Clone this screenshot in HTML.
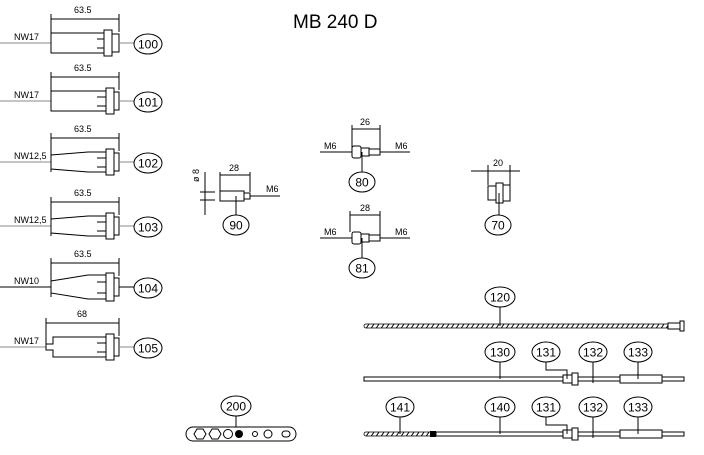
<!DOCTYPE html>
<html><head><style>
html,body{margin:0;padding:0;background:#fff;width:704px;height:455px;overflow:hidden}
svg{display:block}
text{font-family:"Liberation Sans",sans-serif;fill:#000}
.s{stroke:#000;fill:none;stroke-width:1}
.b{stroke:#000;fill:#fff;stroke-width:1}
.g{stroke:#888;fill:none;stroke-width:1}
.t{font-size:9px}
.n{font-size:12px;text-anchor:middle}
</style></head><body>
<svg width="704" height="455" viewBox="0 0 704 455">
<defs>
<pattern id="h" width="5" height="6" patternUnits="userSpaceOnUse"><rect width="5" height="6" fill="#fff"/><line x1="0" y1="6" x2="4" y2="0" stroke="#000" stroke-width="1"/></pattern>
</defs>
<text x="293" y="28" style="font-size:19px">MB 240 D</text>

<g>
<line class="g" x1="0" y1="43" x2="51" y2="43"/>
<text class="t" x="14" y="40">NW17</text>
<line class="s" x1="51" y1="14" x2="51" y2="53"/><line class="s" x1="119" y1="14" x2="119" y2="32"/>
<line class="s" x1="51" y1="19" x2="119" y2="19"/>
<text class="t" x="74" y="13">63.5</text>
<rect class="b" x="51" y="33" width="55" height="20"/>
<rect class="b" x="104" y="30" width="8" height="26"/>
<rect class="b" x="112" y="34" width="7" height="18"/>
<line class="s" x1="97" y1="39" x2="104" y2="39"/><line class="s" x1="97" y1="48" x2="104" y2="48"/>
<line class="g" x1="119" y1="43" x2="134" y2="43"/>
<ellipse class="b" cx="148" cy="44" rx="14" ry="10"/><text class="n" x="148" y="48.5">100</text>
</g>
<g transform="translate(0,58)">
<line class="g" x1="0" y1="43" x2="51" y2="43"/>
<text class="t" x="14" y="40">NW17</text>
<line class="s" x1="51" y1="14" x2="51" y2="53"/><line class="s" x1="119" y1="14" x2="119" y2="32"/>
<line class="s" x1="51" y1="19" x2="119" y2="19"/>
<text class="t" x="74" y="13">63.5</text>
<rect class="b" x="51" y="33" width="55" height="20"/>
<rect class="b" x="106" y="30" width="8" height="26"/>
<rect class="b" x="114" y="34" width="5" height="18"/>
<line class="s" x1="97" y1="39" x2="106" y2="39"/><line class="s" x1="97" y1="48" x2="106" y2="48"/>
<line class="g" x1="119" y1="43" x2="134" y2="43"/>
<ellipse class="b" cx="148" cy="44" rx="14" ry="10"/><text class="n" x="148" y="48.5">101</text>
</g>
<g transform="translate(0,119)">
<line class="g" x1="0" y1="43" x2="51" y2="43"/>
<text class="t" x="14" y="40">NW12,5</text>
<line class="s" x1="51" y1="14" x2="51" y2="53"/><line class="s" x1="119" y1="14" x2="119" y2="32"/>
<line class="s" x1="51" y1="19" x2="119" y2="19"/>
<text class="t" x="74" y="13">63.5</text>
<path class="b" d="M51 36 L88 33 L106 33 L106 53 L88 53 L51 50 Z"/>
<rect class="b" x="106" y="30" width="8" height="26"/>
<rect class="b" x="114" y="34" width="5" height="18"/>
<line class="s" x1="97" y1="39" x2="106" y2="39"/><line class="s" x1="97" y1="48" x2="106" y2="48"/>
<line class="g" x1="119" y1="43" x2="134" y2="43"/>
<ellipse class="b" cx="148" cy="44" rx="14" ry="10"/><text class="n" x="148" y="48.5">102</text>
</g>
<g transform="translate(0,183)">
<line class="g" x1="0" y1="43" x2="51" y2="43"/>
<text class="t" x="14" y="40">NW12,5</text>
<line class="s" x1="51" y1="14" x2="51" y2="53"/><line class="s" x1="119" y1="14" x2="119" y2="32"/>
<line class="s" x1="51" y1="19" x2="119" y2="19"/>
<text class="t" x="74" y="13">63.5</text>
<path class="b" d="M51 36 L88 33 L106 33 L106 53 L88 53 L51 50 Z"/>
<rect class="b" x="106" y="30" width="8" height="26"/>
<rect class="b" x="114" y="34" width="5" height="18"/>
<line class="s" x1="97" y1="39" x2="106" y2="39"/><line class="s" x1="97" y1="48" x2="106" y2="48"/>
<line class="g" x1="119" y1="43" x2="134" y2="43"/>
<ellipse class="b" cx="148" cy="44" rx="14" ry="10"/><text class="n" x="148" y="48.5">103</text>
</g>
<g transform="translate(0,244)">
<line class="s" x1="0" y1="43" x2="51" y2="43"/>
<text class="t" x="14" y="40">NW10</text>
<line class="s" x1="51" y1="14" x2="51" y2="53"/><line class="s" x1="119" y1="14" x2="119" y2="32"/>
<line class="s" x1="51" y1="19" x2="119" y2="19"/>
<text class="t" x="74" y="13">63.5</text>
<path class="b" d="M51 37 L88 31 L106 31 L106 55 L88 55 L51 49 Z"/>
<rect class="b" x="106" y="29" width="8" height="28"/>
<rect class="b" x="114" y="34" width="5" height="18"/>
<line class="s" x1="97" y1="38" x2="106" y2="38"/><line class="s" x1="97" y1="49" x2="106" y2="49"/>
<line class="s" x1="119" y1="43" x2="134" y2="43"/>
<ellipse class="b" cx="148" cy="44" rx="14" ry="10"/><text class="n" x="148" y="48.5">104</text>
</g>
<g transform="translate(0,304)">
<line class="g" x1="0" y1="43" x2="46" y2="43"/>
<text class="t" x="14" y="40">NW17</text>
<line class="s" x1="46" y1="14" x2="46" y2="40"/><line class="s" x1="119" y1="14" x2="119" y2="32"/>
<line class="s" x1="46" y1="19" x2="119" y2="19"/>
<text class="t" x="77" y="13">68</text>
<path class="b" d="M53 33 L106 33 L106 53 L53 53 L53 46 L46 46 L46 40 L53 40 Z"/>
<rect class="b" x="106" y="30" width="8" height="26"/>
<rect class="b" x="114" y="34" width="5" height="18"/>
<line class="s" x1="97" y1="39" x2="106" y2="39"/><line class="s" x1="97" y1="48" x2="106" y2="48"/>
<line class="g" x1="119" y1="43" x2="134" y2="43"/>
<ellipse class="b" cx="148" cy="44" rx="14" ry="10"/><text class="n" x="148" y="48.5">105</text>
</g>

<!-- 90 -->
<line class="s" x1="205" y1="172" x2="205" y2="215"/>
<line class="s" x1="200" y1="192" x2="215" y2="192"/><line class="s" x1="200" y1="200" x2="215" y2="200"/>
<text class="t" x="199" y="182" transform="rotate(-90 199 182)">ø 8</text>
<line class="s" x1="220" y1="172" x2="220" y2="192"/><line class="s" x1="250" y1="172" x2="250" y2="192"/>
<line class="s" x1="220" y1="175" x2="250" y2="175"/>
<text class="t" x="229" y="171">28</text>
<rect class="b" x="220" y="191" width="24" height="10"/>
<rect class="b" x="244" y="193" width="6" height="6"/>
<line class="s" x1="250" y1="196" x2="280" y2="196"/>
<text class="t" x="266" y="192">M6</text>
<line class="s" x1="236" y1="196" x2="236" y2="215"/>
<ellipse class="b" cx="236" cy="225" rx="13" ry="10"/><text class="n" x="236" y="229.5">90</text>

<!-- 80 -->
<line class="s" x1="352" y1="125" x2="352" y2="148"/><line class="s" x1="380" y1="125" x2="380" y2="150"/>
<line class="s" x1="352" y1="129" x2="380" y2="129"/>
<text class="t" x="360" y="125">26</text>
<line class="s" x1="320" y1="152" x2="352" y2="152"/><line class="s" x1="380" y1="152" x2="410" y2="152"/>
<text class="t" x="324" y="149">M6</text><text class="t" x="395" y="149">M6</text>
<rect class="b" x="352" y="146" width="9" height="12" rx="2"/>
<rect class="b" x="361" y="148" width="8" height="8"/>
<rect class="b" x="369" y="149" width="11" height="6"/>
<line class="s" x1="362" y1="152" x2="362" y2="172"/>
<ellipse class="b" cx="362" cy="182" rx="13" ry="10"/><text class="n" x="362" y="186.5">80</text>

<!-- 81 -->
<line class="s" x1="350" y1="211" x2="350" y2="232"/><line class="s" x1="380" y1="211" x2="380" y2="236"/>
<line class="s" x1="350" y1="215" x2="380" y2="215"/>
<text class="t" x="360" y="211">28</text>
<line class="s" x1="320" y1="238" x2="352" y2="238"/><line class="s" x1="380" y1="238" x2="410" y2="238"/>
<text class="t" x="324" y="235">M6</text><text class="t" x="395" y="235">M6</text>
<rect class="b" x="352" y="232" width="9" height="12" rx="2"/>
<rect class="b" x="361" y="234" width="8" height="8"/>
<rect class="b" x="369" y="235" width="11" height="6"/>
<line class="s" x1="362" y1="238" x2="362" y2="258"/>
<ellipse class="b" cx="362" cy="268" rx="13" ry="10"/><text class="n" x="362" y="272.5">81</text>

<!-- 70 -->
<line class="s" x1="471" y1="171" x2="520" y2="171"/>
<line class="s" x1="488" y1="165" x2="488" y2="185"/><line class="s" x1="510" y1="165" x2="510" y2="185"/>
<text class="t" x="493" y="166">20</text>
<rect class="b" x="488" y="186" width="9" height="14"/>
<rect class="b" x="497" y="185" width="13" height="16"/>
<rect class="b" x="496" y="183" width="7" height="20"/>
<line class="s" x1="499" y1="193" x2="499" y2="215"/>
<ellipse class="b" cx="498" cy="225" rx="13" ry="10"/><text class="n" x="498" y="229.5">70</text>

<!-- 200 -->
<ellipse class="b" cx="236" cy="406" rx="15" ry="10"/><text class="n" x="236" y="410.5">200</text>
<line class="s" x1="236" y1="416" x2="236" y2="434"/>
<rect class="b" x="186" y="427" width="110" height="14" rx="7"/>
<polygon class="s" points="194,434 197,429 203,429 206,434 203,439 197,439"/>
<polygon class="s" points="209,434 212,429 218,429 221,434 218,439 212,439"/>
<circle class="s" cx="228" cy="434" r="4.5"/>
<circle cx="239" cy="434" r="4" fill="#000"/>
<circle class="s" cx="255" cy="434" r="2.5"/>
<rect class="s" x="264" y="430" width="8" height="8" rx="4"/>
<rect class="s" x="282" y="431" width="8" height="6" rx="3"/>

<!-- 120 -->
<rect x="364" y="324" width="310" height="4" rx="2" fill="url(#h)" stroke="#000" stroke-width="0.8"/>
<rect class="b" x="668" y="323" width="12" height="6"/>
<rect class="b" x="680" y="321" width="4" height="10"/>
<line class="s" x1="500" y1="307" x2="500" y2="326"/>
<ellipse class="b" cx="500" cy="297" rx="15" ry="10"/><text class="n" x="500" y="301.5">120</text>

<!-- 130 -->
<rect class="b" x="364" y="377" width="320" height="4"/>
<rect class="b" x="563" y="375" width="14" height="8"/>
<rect class="b" x="572" y="373" width="6" height="12"/>
<rect class="b" x="620" y="375" width="42" height="8"/>
<line class="s" x1="593" y1="375" x2="593" y2="383"/>
<ellipse class="b" cx="500" cy="352" rx="15" ry="10"/><text class="n" x="500" y="356.5">130</text>
<line class="s" x1="500" y1="362" x2="500" y2="379"/>
<ellipse class="b" cx="546" cy="352" rx="14" ry="10"/><text class="n" x="546" y="356.5">131</text>
<polyline class="s" points="546,362 546,370 567,370 567,379"/>
<ellipse class="b" cx="593" cy="352" rx="14" ry="10"/><text class="n" x="593" y="356.5">132</text>
<line class="s" x1="593" y1="362" x2="593" y2="379"/>
<ellipse class="b" cx="638" cy="352" rx="14" ry="10"/><text class="n" x="638" y="356.5">133</text>
<line class="s" x1="638" y1="362" x2="638" y2="379"/>

<!-- 140 -->
<rect x="364" y="432" width="68" height="4" rx="2" fill="url(#h)" stroke="#000" stroke-width="0.8"/>
<rect x="430" y="431" width="6" height="6" fill="#000"/>
<rect class="b" x="436" y="432" width="248" height="4"/>
<rect class="b" x="563" y="430" width="14" height="8"/>
<rect class="b" x="572" y="428" width="6" height="12"/>
<rect class="b" x="620" y="430" width="42" height="8"/>
<line class="s" x1="593" y1="430" x2="593" y2="438"/>
<ellipse class="b" cx="400" cy="407" rx="14" ry="10"/><text class="n" x="400" y="411.5">141</text>
<line class="s" x1="400" y1="417" x2="400" y2="434"/>
<ellipse class="b" cx="500" cy="407" rx="15" ry="10"/><text class="n" x="500" y="411.5">140</text>
<line class="s" x1="500" y1="417" x2="500" y2="434"/>
<ellipse class="b" cx="546" cy="407" rx="14" ry="10"/><text class="n" x="546" y="411.5">131</text>
<polyline class="s" points="546,417 546,425 567,425 567,434"/>
<ellipse class="b" cx="593" cy="407" rx="14" ry="10"/><text class="n" x="593" y="411.5">132</text>
<line class="s" x1="593" y1="417" x2="593" y2="434"/>
<ellipse class="b" cx="638" cy="407" rx="14" ry="10"/><text class="n" x="638" y="411.5">133</text>
<line class="s" x1="638" y1="417" x2="638" y2="434"/>
</svg>
</body></html>
